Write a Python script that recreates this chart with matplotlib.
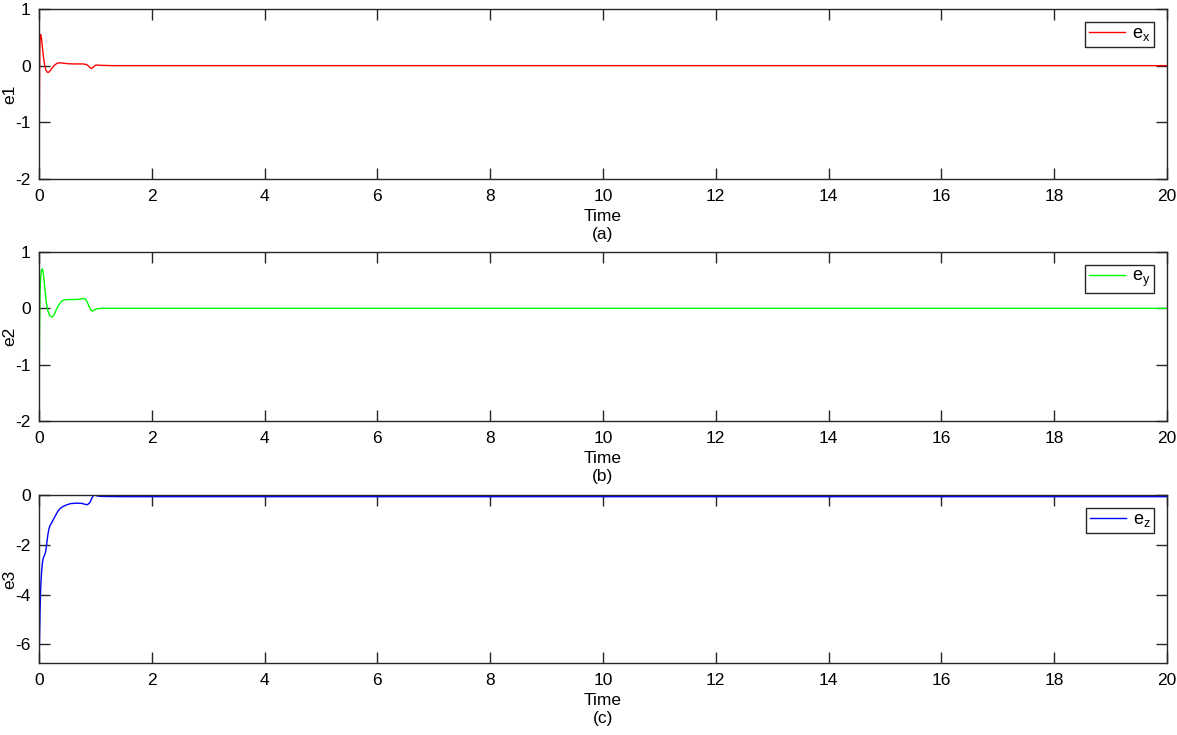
import numpy as np
import matplotlib.pyplot as plt

# values
t_e1 = [0.0, 0.005, 0.01, 0.015, 0.02, 0.03, 0.045, 0.06, 0.08, 0.1, 0.12, 0.14, 0.165, 0.19, 0.22,
        0.25, 0.29, 0.33, 0.37, 0.42, 0.5, 0.6, 0.7, 0.78, 0.84, 0.87, 0.9, 0.93, 0.96, 0.99, 1.02,
        1.1, 1.3, 1.6, 20.0]
e1 = [-2.0, -1.2, -0.3, 0.3, 0.5, 0.55, 0.48, 0.33, 0.15, 0.02, -0.07, -0.11, -0.12, -0.1, -0.06,
      -0.02, 0.02, 0.045, 0.05, 0.045, 0.035, 0.03, 0.03, 0.03, 0.02, 0.0, -0.03, -0.05, -0.03, 0.0, 0.01,
      0.005, 0.0, 0.0, 0.0]

t_e2 = [0.0, 0.005, 0.01, 0.02, 0.03, 0.045, 0.06, 0.075, 0.09, 0.11, 0.13, 0.16, 0.19, 0.22, 0.24,
        0.27, 0.3, 0.34, 0.38, 0.42, 0.46, 0.52, 0.6, 0.7, 0.79, 0.83, 0.86, 0.89, 0.92, 0.95, 0.98,
        1.02, 1.1, 1.3, 20.0]
e2 = [-2.0, -1.2, -0.4, 0.3, 0.55, 0.68, 0.7, 0.65, 0.5, 0.3, 0.1, -0.05, -0.13, -0.15, -0.15,
      -0.11, -0.04, 0.04, 0.1, 0.14, 0.15, 0.155, 0.155, 0.16, 0.175, 0.16, 0.1, 0.03, -0.03, -0.05, -0.03,
      -0.01, 0.0, 0.0, 0.0]

t_e3 = [0.0, 0.005, 0.01, 0.02, 0.03, 0.04, 0.05, 0.065, 0.08, 0.1, 0.12, 0.14, 0.16, 0.18, 0.2,
        0.23, 0.26, 0.3, 0.34, 0.38, 0.43, 0.49, 0.56, 0.67, 0.76, 0.82, 0.86, 0.9, 0.93, 0.96, 0.98,
        1.0, 1.03, 1.1, 1.5, 20.0]
e3 = [-6.75, -6.5, -5.8, -4.6, -3.8, -3.3, -3.0, -2.65, -2.5, -2.4, -2.25, -1.9, -1.55, -1.32, -1.2,
      -1.08, -0.95, -0.78, -0.62, -0.52, -0.44, -0.38, -0.33, -0.31, -0.32, -0.36, -0.37, -0.3, -0.15, -0.02, 0.03,
      0.02, -0.02, -0.04, -0.05, -0.05]

plt.rcParams['font.family'] = ['Liberation Sans', 'DejaVu Sans']
plt.rcParams['mathtext.default'] = 'regular'
plt.rcParams['axes.unicode_minus'] = False

fig = plt.figure(figsize=(11.77, 7.35), dpi=100)

panels = [
    (t_e1, e1, '#ff0000', 'e$_x$', 'e1', (-2, 1), [-2, -1, 0, 1], '(a)', 0.7565, 0.2313),
    (t_e2, e2, '#00ff00', 'e$_y$', 'e2', (-2, 1), [-2, -1, 0, 1], '(b)', 0.4272, 0.2300),
    (t_e3, e3, '#0000ff', 'e$_z$', 'e3', (-6.75, 0.02), [-6, -4, -2, 0], '(c)', 0.0980, 0.2286),
]

for t, e, col, lab, ylab, ylim, yt, tag, bottom, height in panels:
    ax = fig.add_axes([0.0331, bottom, 0.9584, height])
    ax.plot(t, e, color=col, lw=1.0, label=lab)
    ax.set_xlim(0, 20)
    ax.set_ylim(*ylim)
    ax.set_xticks(np.arange(0, 21, 2))
    ax.set_yticks(yt)
    ax.tick_params(direction='in', length=8, width=1, top=True, right=True,
                   labelsize=12.5, colors='#262626', labelcolor='black')
    ax.tick_params(axis='x', pad=7)
    ax.tick_params(axis='y', pad=6)
    for s in ax.spines.values():
        s.set_color('#262626')
        s.set_linewidth(1)
    ax.set_xlabel('Time\n' + tag, fontsize=12.5, linespacing=1.25, labelpad=4)
    ax.set_ylabel(ylab, fontsize=12.5)
    ax.yaxis.set_label_coords(-0.0195, 0.5)
    leg = ax.legend(loc='upper right', fontsize=13, handlelength=2.0,
                    handletextpad=0.4, borderpad=0.2,
                    fancybox=False, framealpha=1, edgecolor='#262626',
                    borderaxespad=0.7)
    leg.get_frame().set_linewidth(1)

fig.savefig('out.png', dpi=100)
